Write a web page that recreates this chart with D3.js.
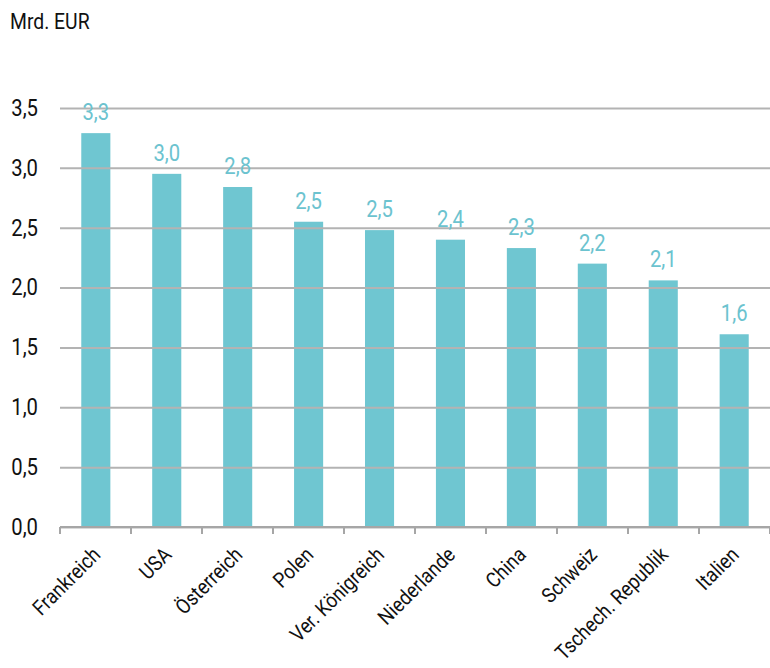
<!DOCTYPE html>
<html>
<head>
<meta charset="utf-8">
<script src="https://cdn.jsdelivr.net/npm/d3@7"></script>
<style>
  body { margin: 0; background: #fff; }
  svg text { font-family: Roboto, "Liberation Sans", sans-serif; }
</style>
</head>
<body>
<div id="chart"></div>
<script>
// data
const countries = ["Frankreich", "USA", "Österreich", "Polen", "Ver. Königreich",
                   "Niederlande", "China", "Schweiz", "Tschech. Republik", "Italien"];
const values = [3.29, 2.95, 2.84, 2.55, 2.48, 2.40, 2.33, 2.20, 2.06, 1.61];
const labels = ["3,3", "3,0", "2,8", "2,5", "2,5", "2,4", "2,3", "2,2", "2,1", "1,6"];
const yTicks = [0, 0.5, 1, 1.5, 2, 2.5, 3, 3.5];

// constants
const w = 770,
      h = 668,
      mLeft = 60,
      mTop = 108,
      mBottom = 527,
      sx = 0.88, // squeeze text to mimic the condensed face
      barColor = "#6fc6d1";

let svg = d3.select("#chart")
            .append("svg")
            .attr("width", w)
            .attr("height", h);

let xScale = d3.scaleBand()
               .domain(countries)
               .range([mLeft, w])
               .paddingInner(0.59)
               .paddingOuter(0.3);

let yScale = d3.scaleLinear()
               .domain([0, 3.5])
               .range([mBottom, mTop]);

let fmt = d => d3.format(".1f")(d).replace(".", ",");

// unit
svg.append("text")
   .attr("transform", `translate(10,29) scale(${sx},1)`)
   .attr("font-size", 22)
   .attr("fill", "#111")
   .text("Mrd. EUR");

// bars
svg.selectAll("rect.bar")
   .data(values)
   .enter()
   .append("rect")
   .attr("class", "bar")
   .attr("x", (d, i) => xScale(countries[i]))
   .attr("y", d => yScale(d))
   .attr("width", xScale.bandwidth())
   .attr("height", d => mBottom - yScale(d))
   .attr("fill", barColor);

// gridlines drawn over the bars
let yAxis = d3.axisLeft(yScale)
              .tickValues(yTicks)
              .tickSize(-(w - mLeft))
              .tickFormat(fmt);

let gy = svg.append("g")
            .attr("transform", `translate(${mLeft},0)`)
            .call(yAxis);
gy.select(".domain").remove();
gy.selectAll(".tick line")
  .attr("stroke", "#b3b3b3")
  .attr("stroke-width", 2);
gy.selectAll(".tick text")
  .attr("x", -22 / sx)
  .attr("transform", `scale(${sx},1)`)
  .attr("font-size", 23)
  .attr("fill", "#111");

// x axis with ticks at band edges
let edges = d3.range(countries.length + 1).map(i => mLeft + i * (w - mLeft) / countries.length);
svg.append("line")
   .attr("x1", mLeft).attr("x2", w)
   .attr("y1", mBottom).attr("y2", mBottom)
   .attr("stroke", "#a6a6a6")
   .attr("stroke-width", 2);
svg.selectAll("line.xtick")
   .data(edges)
   .enter()
   .append("line")
   .attr("class", "xtick")
   .attr("x1", d => d).attr("x2", d => d)
   .attr("y1", mBottom).attr("y2", mBottom + 7)
   .attr("stroke", "#a6a6a6")
   .attr("stroke-width", 2);

// category labels
svg.selectAll("text.cat")
   .data(countries)
   .enter()
   .append("text")
   .attr("class", "cat")
   .attr("text-anchor", "end")
   .attr("font-size", 21)
   .attr("fill", "#111")
   .attr("transform", d => `translate(${xScale(d) + xScale.bandwidth() / 2 + 6},${mBottom + 29}) rotate(-45) scale(${sx},1)`)
   .text(d => d);

// value labels
svg.selectAll("text.val")
   .data(values)
   .enter()
   .append("text")
   .attr("class", "val")
   .attr("text-anchor", "middle")
   .attr("font-size", 23)
   .attr("fill", "#6cc3cf")
   .attr("transform", (d, i) => `translate(${xScale(countries[i]) + xScale.bandwidth() / 2},${yScale(d) - 13}) scale(${sx},1)`)
   .text((d, i) => labels[i]);
</script>
</body>
</html>
